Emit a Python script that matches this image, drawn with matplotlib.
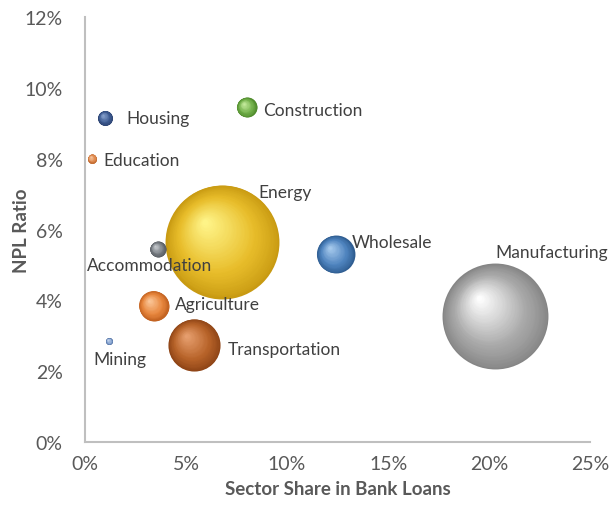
import matplotlib.pyplot as plt
import matplotlib.transforms as mtrans
from matplotlib.colors import LinearSegmentedColormap
from matplotlib.ticker import FuncFormatter
import numpy as np

# sector data: share of bank loans (%), NPL ratio (%), bubble size (relative)
sectors = ['Housing', 'Construction', 'Education', 'Energy', 'Accommodation',
           'Wholesale', 'Manufacturing', 'Agriculture', 'Mining', 'Transportation']
loan_share = [1.0, 8.0, 0.35, 6.8, 3.6, 12.4, 20.3, 3.4, 1.2, 5.4]
npl_ratio = [9.15, 9.45, 8.0, 5.65, 5.45, 5.3, 3.55, 3.85, 2.85, 2.75]
bubble_size = [0.56, 1.0, 0.2, 32.5, 0.64, 3.6, 28.1, 2.25, 0.12, 6.8]

x_ticks = [0, 5, 10, 15, 20, 25]
y_ticks = [0, 2, 4, 6, 8, 10, 12]

# (rim, body, highlight) colours for each ball
ball_colors = {
    'Housing':        ('#2c4270', '#3f5d93', '#8aa4d0'),
    'Construction':   ('#4f8a2c', '#72b04a', '#c6ec9e'),
    'Education':      ('#c06a30', '#e08b50', '#f8c8a0'),
    'Energy':         ('#c89a12', '#e8bd2a', '#fff58a'),
    'Accommodation':  ('#555a60', '#7a7f85', '#c8ccd0'),
    'Wholesale':      ('#2f5d91', '#4f84bf', '#a8cbee'),
    'Manufacturing':  ('#858585', '#aaaaaa', '#ffffff'),
    'Agriculture':    ('#c0601f', '#e8873e', '#fbc89a'),
    'Mining':         ('#5070a0', '#7d9ccc', '#c8d8f0'),
    'Transportation': ('#8e4416', '#b8642a', '#e8a070'),
}

# label offsets in points from the bubble centre, plus alignment
label_pos = {
    'Housing':        (15, 0, 'left'),
    'Construction':   (12, -2, 'left'),
    'Education':      (8, -1, 'left'),
    'Energy':         (45, 36, 'center'),
    'Accommodation':  (-6, -11.5, 'center'),
    'Wholesale':      (12, 9, 'left'),
    'Manufacturing':  (41, 46, 'center'),
    'Agriculture':    (15, 1, 'left'),
    'Mining':         (8, -13, 'center'),
    'Transportation': (24, -3, 'left'),
}

plt.rcParams['font.family'] = ['Lato', 'DejaVu Sans']

fig = plt.figure(figsize=(6.11, 5.10), dpi=100)
ax = fig.add_axes([0.139, 0.131, 0.827, 0.834])
ax.set_xlim(0, 25)
ax.set_ylim(0, 12)

SIZE_SCALE = 207.0   # points^2 per size unit
N_LAYERS = 45
HIGHLIGHT = np.array([-0.32, 0.36])


def draw_ball(x, y, size, cols, z):
    s = size * SIZE_SCALE
    R = np.sqrt(s) / 2.0
    cmap = LinearSegmentedColormap.from_list(
        'ball', [(0.0, cols[0]), (0.4, cols[1]), (1.0, cols[2])])
    for i in range(N_LAYERS):
        t = i / N_LAYERS
        k = 1.0 - 0.97 * t
        dx, dy = (1.0 - k) * HIGHLIGHT * R
        tr = mtrans.offset_copy(ax.transData, fig=fig, x=dx, y=dy, units='points')
        ax.scatter([x], [y], s=s * k * k, color=cmap(t ** 0.85),
                   transform=tr, linewidths=0, zorder=z)


order = np.argsort(bubble_size)[::-1]
for rank, idx in enumerate(order):
    draw_ball(loan_share[idx], npl_ratio[idx], bubble_size[idx],
              ball_colors[sectors[idx]], 2 + rank * 0.01)

for name, xv, yv in zip(sectors, loan_share, npl_ratio):
    dx, dy, ha = label_pos[name]
    ax.annotate(name, (xv, yv), xytext=(dx, dy), textcoords='offset points',
                ha=ha, va='center', fontsize=12.5, color='#404040', zorder=5)

ax.set_xticks(x_ticks)
ax.set_yticks(y_ticks)
pct = FuncFormatter(lambda v, p: f'{v:.0f}%')
ax.xaxis.set_major_formatter(pct)
ax.yaxis.set_major_formatter(pct)
ax.tick_params(length=0, labelsize=14, labelcolor='#595959')
ax.tick_params(axis='x', pad=9)
ax.tick_params(axis='y', pad=16)

for side in ['top', 'right']:
    ax.spines[side].set_visible(False)
for side in ['left', 'bottom']:
    ax.spines[side].set_color('#bfbfbf')
    ax.spines[side].set_linewidth(1.5)

ax.set_xlabel('Sector Share in Bank Loans', fontsize=13.5, fontweight='bold',
              color='#595959', labelpad=6)
ax.set_ylabel('NPL Ratio', fontsize=13.5, fontweight='bold',
              color='#595959', labelpad=-4)

fig.savefig('out.png', dpi=100)
